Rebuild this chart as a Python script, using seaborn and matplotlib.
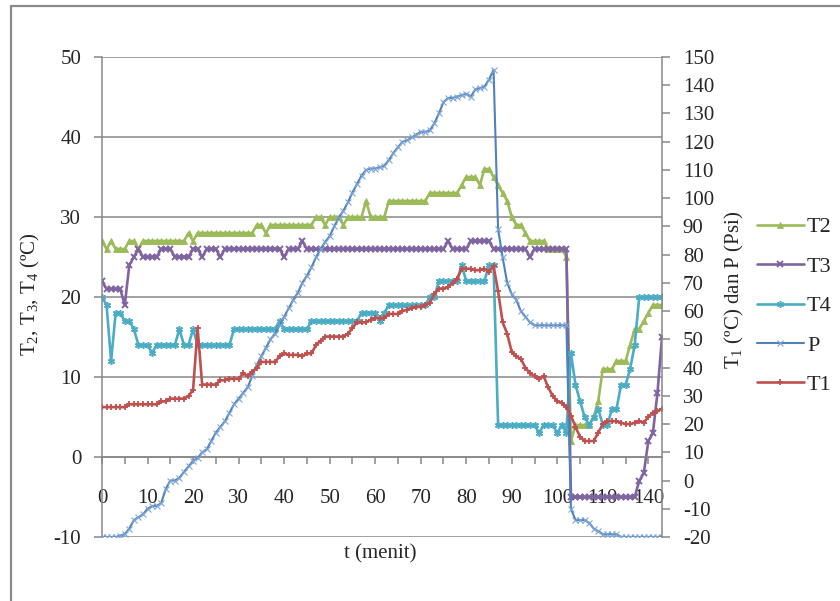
import numpy as np
import matplotlib
matplotlib.use("Agg")
import matplotlib.pyplot as plt
import seaborn as sns
from matplotlib.lines import Line2D

# ---------------- data (one value per reading, x = reading index) ----------------
t_tick_labels = ["0", "10", "20", "30", "40", "50", "60", "70", "80", "90",
                 "100", "110", "140"]

t2 = [27, 26, 27, 26, 26, 26, 27, 27, 26, 27,
      27, 27, 27, 27, 27, 27, 27, 27, 27, 28,
      27, 28, 28, 28, 28, 28, 28, 28, 28, 28,
      28, 28, 28, 28, 29, 29, 28, 29, 29, 29,
      29, 29, 29, 29, 29, 29, 29, 30, 30, 29,
      30, 30, 30, 29, 30, 30, 30, 30, 32, 30,
      30, 30, 30, 32, 32, 32, 32, 32, 32, 32,
      32, 32, 33, 33, 33, 33, 33, 33, 33, 34,
      35, 35, 35, 34, 36, 36, 35, 34, 33, 32,
      30, 29, 29, 28, 27, 27, 27, 27, 26, 26,
      26, 26, 25, 2, 4, 4, 4, 4, 5, 7,
      11, 11, 11, 12, 12, 12, 14, 16, 16, 17,
      18, 19, 19, 19]

t3 = [22, 21, 21, 21, 21, 19, 24, 25, 26, 25,
      25, 25, 25, 26, 26, 26, 25, 25, 25, 25,
      26, 26, 25, 26, 26, 26, 25, 26, 26, 26,
      26, 26, 26, 26, 26, 26, 26, 26, 26, 26,
      25, 26, 26, 26, 27, 26, 26, 26, 26, 26,
      26, 26, 26, 26, 26, 26, 26, 26, 26, 26,
      26, 26, 26, 26, 26, 26, 26, 26, 26, 26,
      26, 26, 26, 26, 26, 26, 27, 26, 26, 26,
      26, 27, 27, 27, 27, 27, 26, 26, 26, 26,
      26, 26, 26, 26, 25, 26, 26, 26, 26, 26,
      26, 26, 26, -5, -5, -5, -5, -5, -5, -5,
      -5, -5, -5, -5, -5, -5, -5, -5, -3, -2,
      2, 3, 8, 15]

t4 = [20, 19, 12, 18, 18, 17, 17, 16, 14, 14,
      14, 13, 14, 14, 14, 14, 14, 16, 14, 14,
      16, 14, 14, 14, 14, 14, 14, 14, 14, 16,
      16, 16, 16, 16, 16, 16, 16, 16, 16, 17,
      16, 16, 16, 16, 16, 16, 17, 17, 17, 17,
      17, 17, 17, 17, 17, 17, 17, 18, 18, 18,
      18, 17, 18, 19, 19, 19, 19, 19, 19, 19,
      19, 19, 20, 20, 22, 22, 22, 22, 22, 24,
      22, 22, 22, 22, 22, 24, 24, 4, 4, 4,
      4, 4, 4, 4, 4, 4, 3, 4, 4, 4,
      3, 4, 3, 13, 9, 7, 5, 4, 5, 6,
      4, 4, 6, 6, 9, 9, 11, 14, 20, 20,
      20, 20, 20, 20]

p_psi = [-20, -20, -20, -20, -19.5, -19, -17, -14, -13, -12,
         -10, -9, -9, -8, -3, 0, 0, 1, 3, 5,
         7, 8, 10, 11, 14, 17, 19, 21, 24, 27,
         29, 31, 33, 37, 41, 44, 47, 50, 52, 55,
         58, 61, 64, 66.5, 70, 72.5, 75.5, 79, 82, 84.5,
         86.5, 90, 93, 95.5, 98.5, 102, 105, 108, 110, 110.5,
         110.5, 111, 111.5, 113.5, 116, 118, 120, 120.5, 121.5, 122.5,
         123.5, 123.5, 124, 126.5, 130, 134, 135.5, 135.5, 136, 136.5,
         137, 136, 138.5, 139, 139.5, 142, 145.5, 89, 79, 70,
         66, 64, 60, 58, 56, 55, 55, 55, 55, 55,
         55, 55, 55, -10, -14, -14, -14, -15, -17, -18,
         -19, -19, -19, -19, -20, -20, -20, -20, -20, -20,
         -20, -20, -20, -20]

t1 = [26, 26, 26, 26, 26, 26, 27, 27, 27, 27,
      27, 27, 27, 28, 28, 29, 29, 29, 29, 30,
      32, 54, 34, 34, 34, 34, 35.5, 35.5, 36, 36,
      36, 38, 37, 38.5, 40, 42, 42, 42, 42, 44,
      45, 44.5, 44.5, 44.5, 44, 45, 45, 48, 49.5, 51,
      51, 51, 51, 51, 52, 54, 56, 56, 56, 57,
      57.5, 57.5, 57.5, 59, 59, 59, 60, 60.5, 61, 61.5,
      61.5, 62, 63, 66, 68, 68, 68.5, 70, 71.5, 75,
      75, 75, 74.5, 74.5, 75, 74, 76, 67, 56, 52,
      45.5, 44, 43, 40, 38, 37, 36, 37, 33, 30,
      28, 27.5, 26, 23, 19, 15.5, 14, 14, 14, 17,
      20, 21, 21, 21, 20.5, 20, 20, 20.5, 21, 20.5,
      22.5, 24, 24.5, 25.5]

idx = np.arange(len(t2))

# ---------------- style ----------------
sns.set_style("white")
plt.rcParams["font.family"] = ["Liberation Serif", "DejaVu Serif"]
plt.rcParams["mathtext.default"] = "regular"
plt.rcParams["axes.unicode_minus"] = False

GRID = "#878787"
C_T2, C_T3, C_T4, C_P, C_T1 = "#9BBB59", "#8064A2", "#4BACC6", "#4F81BD", "#C0504D"

fig = plt.figure(figsize=(8.4, 6.01), dpi=100)
ax = fig.add_axes([102 / 840, 64 / 601, 560 / 840, 480 / 601])
ax2 = ax.twinx()
ax.set_axisbelow(True)

# primary axis: T2, T3, T4
sns.lineplot(x=idx, y=t2, ax=ax, color=C_T2, linewidth=1.9, marker="^",
             markersize=5, markeredgecolor=C_T2, markeredgewidth=0.6,
             errorbar=None, legend=False, label="T2")
sns.lineplot(x=idx, y=t3, ax=ax, color=C_T3, linewidth=1.9, marker="x",
             markersize=4, markeredgecolor=C_T3, markeredgewidth=1.4,
             errorbar=None, legend=False, label="T3")
sns.lineplot(x=idx, y=t4, ax=ax, color=C_T4, linewidth=1.9, marker=(6, 2, 0),
             markersize=5, markeredgecolor=C_T4, markeredgewidth=1.1,
             errorbar=None, legend=False, label="T4")

# secondary axis: P and T1
sns.lineplot(x=idx, y=p_psi, ax=ax2, color=C_P, linewidth=1.5, marker="x",
             markersize=4, markeredgecolor="#7FA6D6", markeredgewidth=0.8,
             errorbar=None, legend=False, label="P")
sns.lineplot(x=idx, y=t1, ax=ax2, color=C_T1, linewidth=1.9, marker="+",
             markersize=5, markeredgecolor=C_T1, markeredgewidth=1.3,
             errorbar=None, legend=False, label="T1")

# ---------------- axes ----------------
ax.set_xlim(0, 123)
ax.set_ylim(-10, 50)
ax2.set_ylim(-20, 150)

ax.set_xticks(range(0, 121, 10))
ax.set_xticklabels(t_tick_labels)
ax.set_xticks(range(5, 124, 10), minor=True)
ax.set_yticks(range(-10, 51, 10))
ax2.set_yticks(range(-20, 151, 10))

ax.grid(axis="y", color=GRID, linewidth=1.1)
ax.grid(axis="x", visible=False)

ax.spines["bottom"].set_position(("data", 0))
for s in ("top", "right"):
    ax.spines[s].set_visible(False)
for s in ("top", "bottom", "left"):
    ax2.spines[s].set_visible(False)
for sp in (ax.spines["left"], ax.spines["bottom"], ax2.spines["right"]):
    sp.set_color(GRID)
    sp.set_linewidth(1.1)

ax.tick_params(axis="x", which="both", bottom=True, direction="out",
               length=5, width=1.1, color=GRID, pad=18, labelsize=15)
ax.tick_params(axis="y", left=True, direction="out", length=6, width=1.1,
               color=GRID, pad=9, labelsize=15)
ax2.tick_params(axis="y", right=True, direction="out", length=6, width=1.1,
                color=GRID, pad=9, labelsize=15)
ax.set_xlabel("")
ax.set_ylabel("")
ax2.set_ylabel("")

fig.text(30 / 840, 1 - 294 / 601, "T$_2$, T$_3$, T$_4$ (ºC)", rotation=90,
         ha="center", va="center", fontsize=15)
fig.text(734 / 840, 1 - 290 / 601, "T$_1$ (ºC) dan P (Psi)", rotation=90,
         ha="center", va="center", fontsize=15)
fig.text(380 / 840, 1 - 554 / 601, "t (menit)", ha="center", va="center",
         fontsize=15)

# ---------------- legend ----------------
h1, l1 = ax.get_legend_handles_labels()
h2, l2 = ax2.get_legend_handles_labels()
fig.legend(h1 + h2, l1 + l2, loc="center left",
           bbox_to_anchor=(757 / 840, 1 - 306 / 601), frameon=False,
           fontsize=16, handlelength=2.1, handletextpad=0.15,
           labelspacing=0.85, borderpad=0, borderaxespad=0, numpoints=1)

# outer chart frame
fig.add_artist(Line2D([11 / 840, 11 / 840], [0, 1 - 6 / 601],
                      transform=fig.transFigure, color="#8a8a8a", lw=1.6))
fig.add_artist(Line2D([11 / 840, 1], [1 - 6 / 601, 1 - 6 / 601],
                      transform=fig.transFigure, color="#8a8a8a", lw=1.6))

fig.savefig("out.png", dpi=100)
